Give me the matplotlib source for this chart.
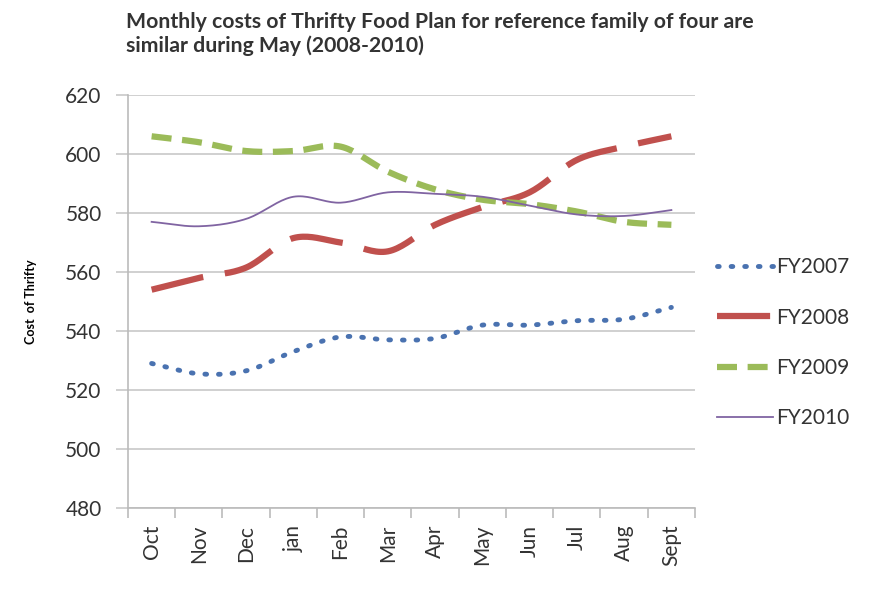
import numpy as np
import matplotlib
matplotlib.use('Agg')
import matplotlib.pyplot as plt

months = ['Oct', 'Nov', 'Dec', 'jan', 'Feb', 'Mar', 'Apr', 'May', 'Jun', 'Jul', 'Aug', 'Sept']

fy2007 = [529, 525.5, 526.5, 533, 538, 537, 537.5, 542, 542, 543.5, 544, 548]
fy2008 = [554, 558, 561.5, 571.5, 570, 567, 576, 582, 587, 598, 602.5, 606]
fy2009 = [606, 604, 601, 601, 602.5, 594, 588, 584.5, 583, 580.5, 577, 576]
fy2010 = [577, 575.5, 578, 585.5, 583.5, 587, 586.5, 585.5, 582.5, 579.5, 579, 581]

series = [('FY2007', fy2007, '#4A72B0', (0, (0.35, 2.45)), 3.5),
          ('FY2008', fy2008, '#C0504D', (0, (8.5, 3.5)), 4.5),
          ('FY2009', fy2009, '#9BBB59', (0, (3.2, 1.7)), 4.5),
          ('FY2010', fy2010, '#8064A2', '-', 1.3)]


def smooth(x, y, n=20):
    # Catmull-Rom curve through the points, like Excel's smoothed line
    x = np.asarray(x, float)
    y = np.asarray(y, float)
    px = np.concatenate([[2 * x[0] - x[1]], x, [2 * x[-1] - x[-2]]])
    py = np.concatenate([[2 * y[0] - y[1]], y, [2 * y[-1] - y[-2]]])
    xs, ys = [], []
    t = np.linspace(0, 1, n, endpoint=False)
    for i in range(1, len(px) - 2):
        for p, out in ((px, xs), (py, ys)):
            p0, p1, p2, p3 = p[i - 1], p[i], p[i + 1], p[i + 2]
            out.extend(0.5 * (2 * p1 + (-p0 + p2) * t
                              + (2 * p0 - 5 * p1 + 4 * p2 - p3) * t ** 2
                              + (-p0 + 3 * p1 - 3 * p2 + p3) * t ** 3))
    xs.append(x[-1])
    ys.append(y[-1])
    return np.array(xs), np.array(ys)


plt.rcParams['font.family'] = ['Lato', 'DejaVu Sans']

fig = plt.figure(figsize=(8.7, 5.94), dpi=100)
ax = fig.add_axes([128 / 870, 1 - 508 / 594, 567 / 870, 413 / 594])

x = np.arange(len(months))
for name, vals, color, ls, lw in series:
    sx, sy = smooth(x, vals)
    ax.plot(sx, sy, color=color, linestyle=ls, linewidth=lw, label=name,
            dash_capstyle='round' if name == 'FY2007' else 'butt')

ax.set_xlim(-0.5, len(months) - 0.5)
ax.set_ylim(480, 620)
ax.set_yticks(np.arange(480, 621, 20))
ax.yaxis.grid(True, color='#C8C8C8', linewidth=1.2)
ax.set_axisbelow(True)

ax.set_xticks(x)
ax.set_xticklabels(months, rotation=90, fontsize=15, color='#333333')
ax.set_xticks(np.arange(-0.5, len(months), 1), minor=True)
ax.tick_params(axis='x', which='major', length=0, pad=12)
ax.tick_params(axis='x', which='minor', length=7, color='#BBBBBB', width=1.2)
ax.tick_params(axis='y', length=9, color='#C8C8C8', width=1.2, labelsize=15,
               labelcolor='#333333', pad=10)

for side in ['top', 'right']:
    ax.spines[side].set_visible(False)
for side in ['left', 'bottom']:
    ax.spines[side].set_color('#BBBBBB')
    ax.spines[side].set_linewidth(1.2)

ax.set_ylabel('Cost  of Thrifty', fontsize=9, fontweight='bold', labelpad=20)

fig.text(126 / 870, 1 - 34 / 594,
         'Monthly costs of Thrifty Food Plan for reference family of four are\nsimilar during May (2008-2010)',
         fontsize=15.3, fontweight='bold', color='#333333', va='center', ha='left',
         linespacing=1.25)

leg = ax.legend(loc='center left', bbox_to_anchor=(1.005, 0.40), frameon=False,
                fontsize=15, handlelength=2.7, handletextpad=0.15, labelspacing=1.45,
                labelcolor='#333333')

fig.savefig('out.png', dpi=100)
